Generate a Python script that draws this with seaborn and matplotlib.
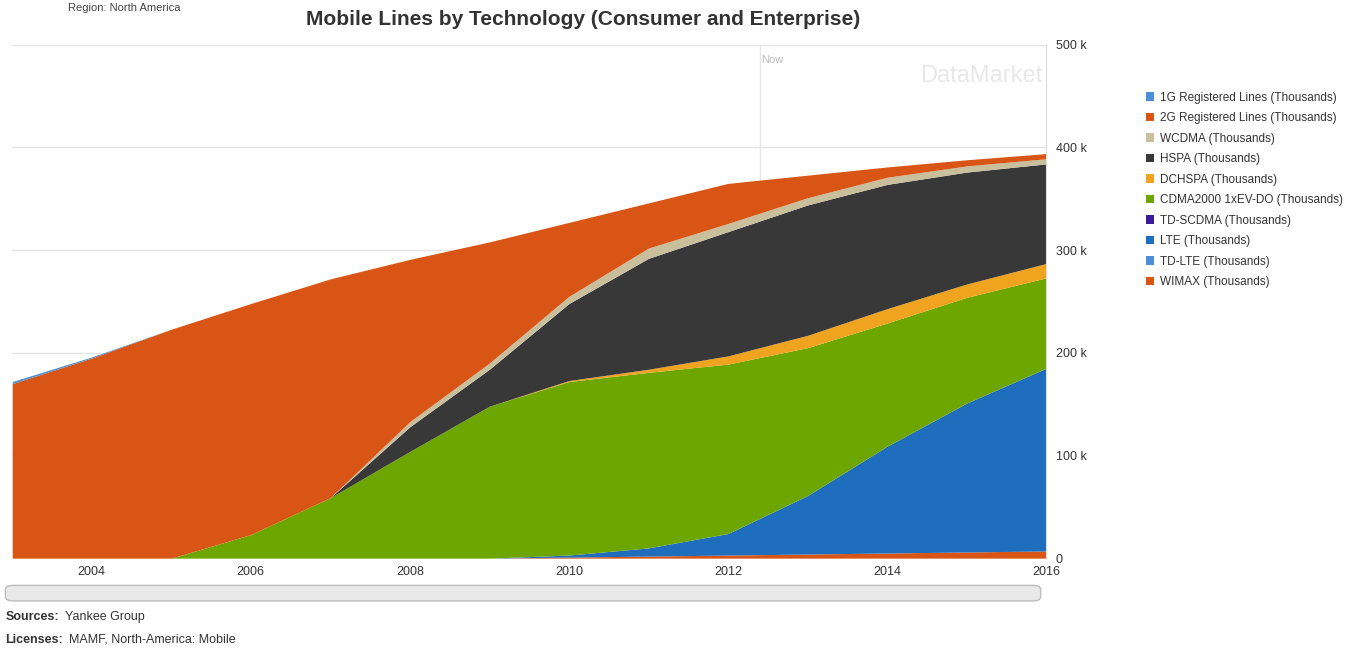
"""
Stacked area chart: mobile lines by technology, North America (DataMarket style)
"""

import numpy as np
import pandas as pd
import matplotlib
matplotlib.use('Agg')
import matplotlib.pyplot as plt
import matplotlib.ticker as mticker
from matplotlib.patches import Patch, FancyBboxPatch
import seaborn as sns

# Data (thousands)
years = [2003, 2004, 2005, 2006, 2007, 2008, 2009, 2010, 2011, 2012, 2013, 2014, 2015, 2016]
wimax = [0, 0, 0, 0, 0, 0, 0, 1000, 2000, 3000, 4000, 5000, 6000, 7000]
td_lte = [0, 0, 0, 0, 0, 0, 0, 0, 0, 0, 0, 0, 0, 0]
lte = [0, 0, 0, 0, 0, 0, 0, 2000, 8000, 21000, 57000, 104000, 145000, 178000]
td_scdma = [0, 0, 0, 0, 0, 0, 0, 0, 0, 0, 0, 0, 0, 0]
cdma2000 = [0, 0, 0, 23000, 59000, 104000, 148000, 169000, 171000, 165000, 144000, 120000, 103000, 88000]
dchspa = [0, 0, 0, 0, 0, 0, 0, 1000, 3000, 8000, 12000, 14000, 13000, 14000]
hspa = [0, 0, 0, 0, 0, 24000, 36000, 75000, 108000, 121000, 127000, 121000, 109000, 97000]
wcdma = [0, 0, 0, 0, 0, 5000, 6000, 7000, 10000, 8000, 7000, 7000, 6000, 5000]
reg_2g = [170000, 195000, 223000, 225000, 213000, 158000, 118000, 72000, 44000, 39000, 22000, 10000, 6000, 5000]
reg_1g = [2000, 1000, 0, 0, 0, 0, 0, 0, 0, 0, 0, 0, 0, 0]

legend_labels = ['1G Registered Lines (Thousands)', '2G Registered Lines (Thousands)',
                 'WCDMA (Thousands)', 'HSPA (Thousands)', 'DCHSPA (Thousands)',
                 'CDMA2000 1xEV-DO (Thousands)', 'TD-SCDMA (Thousands)', 'LTE (Thousands)',
                 'TD-LTE (Thousands)', 'WIMAX (Thousands)']
x_ticks = [2004, 2006, 2008, 2010, 2012, 2014, 2016]
y_ticks = [0, 100000, 200000, 300000, 400000, 500000]

colors = {
    '1G Registered Lines (Thousands)': '#4d8fd6',
    '2G Registered Lines (Thousands)': '#d95515',
    'WCDMA (Thousands)': '#c9bf9c',
    'HSPA (Thousands)': '#383838',
    'DCHSPA (Thousands)': '#f0a31e',
    'CDMA2000 1xEV-DO (Thousands)': '#6ea600',
    'TD-SCDMA (Thousands)': '#3a1c9a',
    'LTE (Thousands)': '#1f6dbd',
    'TD-LTE (Thousands)': '#4d8fd6',
    'WIMAX (Thousands)': '#d95515',
}

df = pd.DataFrame({
    'year': years,
    '1G Registered Lines (Thousands)': reg_1g,
    '2G Registered Lines (Thousands)': reg_2g,
    'WCDMA (Thousands)': wcdma,
    'HSPA (Thousands)': hspa,
    'DCHSPA (Thousands)': dchspa,
    'CDMA2000 1xEV-DO (Thousands)': cdma2000,
    'TD-SCDMA (Thousands)': td_scdma,
    'LTE (Thousands)': lte,
    'TD-LTE (Thousands)': td_lte,
    'WIMAX (Thousands)': wimax,
})

sns.set_style('white')
plt.rcParams['font.family'] = ['Liberation Sans', 'DejaVu Sans']

fig = plt.figure(figsize=(13.55, 6.49), dpi=100)
ax = fig.add_axes([0.009, 0.14, 0.763, 0.791])

# stack from bottom (WIMAX) to top (1G)
stack_order = legend_labels[::-1]
ax.stackplot(df['year'], *[df[c] for c in stack_order],
             colors=[colors[c] for c in stack_order], linewidth=0)

ax.set_xlim(2003, 2016)
ax.set_ylim(0, 500000)
ax.set_xticks(x_ticks)
ax.set_yticks(y_ticks)
ax.yaxis.tick_right()
ax.yaxis.set_major_formatter(mticker.FuncFormatter(lambda v, p: '0' if v == 0 else f'{int(v / 1000)} k'))
ax.tick_params(axis='both', labelsize=9, colors='#333333', length=0)
ax.tick_params(axis='x', pad=6)
ax.tick_params(axis='y', pad=7)
ax.grid(True, axis='y', color='#e4e4e4', linewidth=1)
ax.set_axisbelow(True)
for side in ['top', 'left', 'bottom']:
    ax.spines[side].set_visible(False)
ax.spines['right'].set_color('#dddddd')

# "Now" marker and watermark
ax.axvline(2012.4, color='#e6e6e6', linewidth=1, zorder=0)
ax.text(2012.42, 490000, 'Now', fontsize=8, color='#bbbbbb', va='top')
ax.text(2015.95, 470000, 'DataMarket', fontsize=17, color='#e8e8e8', ha='right', va='center')

# titles
fig.text(0.05, 0.995, 'Region: North America', fontsize=8, color='#444444', va='top')
fig.text(0.43, 0.985, 'Mobile Lines by Technology (Consumer and Enterprise)',
         fontsize=15, fontweight='bold', color='#333333', ha='center', va='top')

# scrollbar under the chart
bar = FancyBboxPatch((0.006, 0.076), 0.76, 0.02, boxstyle='round,pad=0.002,rounding_size=0.006',
                     transform=fig.transFigure, facecolor='#e9e9e9', edgecolor='#bdbdbd', linewidth=1)
fig.patches.append(bar)

# footer
fig.text(0.004, 0.045, 'Sources:', fontsize=9, fontweight='bold', color='#333333', va='baseline')
fig.text(0.048, 0.045, 'Yankee Group', fontsize=9, color='#333333', va='baseline')
fig.text(0.004, 0.010, 'Licenses:', fontsize=9, fontweight='bold', color='#333333', va='baseline')
fig.text(0.051, 0.010, 'MAMF, North-America: Mobile', fontsize=9, color='#333333', va='baseline')

# legend on the right
handles = [Patch(facecolor=colors[c], edgecolor='none') for c in legend_labels]
fig.legend(handles, legend_labels, loc='upper left', bbox_to_anchor=(0.838, 0.875),
           frameon=False, fontsize=8.5, handlelength=0.7, handleheight=0.7,
           handletextpad=0.5, labelspacing=0.72, labelcolor='#333333')

plt.savefig('out.png', dpi=100)
